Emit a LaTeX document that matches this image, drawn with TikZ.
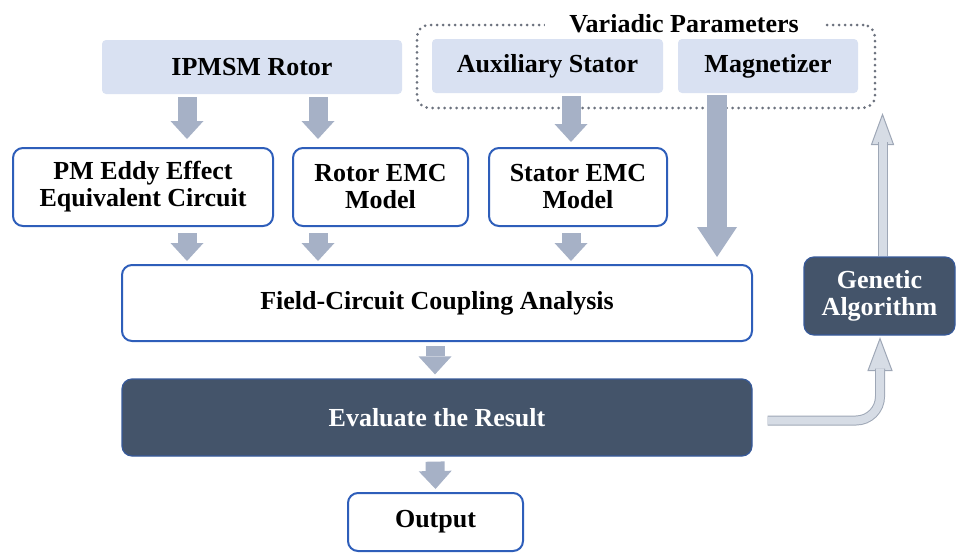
\documentclass[tikz,border=0pt]{standalone}
\usepackage{fontspec}
\setmainfont{Liberation Serif}
\usepackage{tikz}
\usetikzlibrary{arrows.meta}

\definecolor{boxblue}{RGB}{46,94,186}
\definecolor{paleblue}{RGB}{217,225,242}
\definecolor{slate}{RGB}{68,84,106}
\definecolor{flowgray}{RGB}{166,177,198}
\definecolor{loopfill}{RGB}{214,220,229}
\definecolor{loopedge}{RGB}{158,167,182}
\definecolor{dotgray}{RGB}{108,114,126}

\begin{document}
\begin{tikzpicture}[x=0.5pt, y=-0.5pt,
  every node/.style = {align=center, inner sep=0pt,
    font=\fontsize{13pt}{13.5pt}\selectfont\bfseries},
  param/.style = {fill=paleblue, rounded corners=2pt, minimum height=27pt},
  model/.style = {draw=boxblue, line width=1pt, fill=white, rounded corners=5pt},
  dark/.style = {draw=boxblue!60!slate, line width=0.6pt, fill=slate,
    text=white, rounded corners=5pt},
  flow/.style = {draw=flowgray, line width=9.5pt,
    -{Triangle[width=16.5pt, length=9pt, line width=0pt]}},
  bigflow/.style = {draw=flowgray, line width=10pt,
    -{Triangle[width=20pt, length=15pt, line width=0pt]}},
  loop/.style = {draw=loopedge, line width=0.5pt, double=loopfill, double distance=4pt},
  loophead/.style = {draw=loopedge, line width=0.5pt, fill=loopfill, line join=miter}]
  \useasboundingbox (0,0) rectangle (958,552);

  % parameter boxes
  \node[draw=dotgray, line width=1.5pt, dash pattern=on 0pt off 3pt, line cap=round,
    rounded corners=6pt, minimum width=229pt, minimum height=41.5pt] (varbox) at (646,66.5) {};
  \node[fill=white, inner xsep=12pt, inner ysep=2pt] (varlabel) at (684,24) {Variadic Parameters};
  \node[param, minimum width=150pt] (rotor) at (252,67) {IPMSM Rotor};
  \node[param, minimum width=115.5pt] (aux) at (547.5,66) {Auxiliary Stator};
  \node[param, minimum width=90pt] (magnet) at (768,66) {Magnetizer};

  % models and analysis
  \node[model, minimum width=130pt, minimum height=39pt] (pm) at (143,187) {PM Eddy Effect\\Equivalent Circuit};
  \node[model, minimum width=87.5pt, minimum height=39pt] (rotemc) at (380.5,187) {Rotor EMC\\Model};
  \node[model, minimum width=89pt, minimum height=39pt] (statemc) at (578,187) {Stator EMC\\Model};
  \node[model, minimum width=315pt, minimum height=38pt] (field) at (437,303) {Field-Circuit Coupling Analysis};
  \node[dark, minimum width=315pt, minimum height=38.5pt] (eval) at (437,417.5) {Evaluate the Result};
  \node[dark, minimum width=75.5pt, minimum height=39pt] (ga) at (879.5,296) {Genetic\\Algorithm};
  \node[model, minimum width=87.5pt, minimum height=29pt] (output) at (435.5,522) {Output};

  \draw[flow] ([xshift=-32.5pt,yshift=-1.5pt]rotor.south) -- ([xshift=22pt,yshift=4pt]pm.north);
  \draw[flow] ([xshift=33pt,yshift=-1.5pt]rotor.south) -- ([xshift=-31.25pt,yshift=4pt]rotemc.north);
  \draw[flow] ([xshift=11.75pt,yshift=-1.5pt]aux.south) -- ([xshift=-3.5pt,yshift=2.5pt]statemc.north);
  \draw[flow] ([xshift=22pt,yshift=-3pt]pm.south) -- ([xshift=-125pt,yshift=1.5pt]field.north);
  \draw[flow] ([xshift=-31.25pt,yshift=-3pt]rotemc.south) -- ([xshift=-59.5pt,yshift=1.5pt]field.north);
  \draw[flow] ([xshift=-3.5pt,yshift=-3pt]statemc.south) -- ([xshift=67pt,yshift=1.5pt]field.north);
  \draw[bigflow] ([xshift=-25.5pt,yshift=-1pt]magnet.south) -- ([xshift=140pt,yshift=3.5pt]field.north);
  \draw[flow] ([xshift=-1pt,yshift=-2pt]field.south) -- ([xshift=-1pt,yshift=2pt]eval.north);
  \draw[flow] ([xshift=-1pt,yshift=-2.5pt]eval.south) -- ([yshift=1.5pt]output.north);

  % optimisation loop
  \coordinate (gain) at ([xshift=0.25pt,yshift=-1.5pt]ga.south);
  \coordinate (gaout) at (varbox.south -| ga.north);
  \draw[loophead] (gain) -- ++(12,32) -- ++(-24,0) -- cycle;
  \draw[loop, rounded corners=12pt] ([xshift=7.5pt,yshift=-1.5pt]eval.east) -| ([yshift=-15pt]gain);
  \draw[loophead] ([xshift=1.5pt,yshift=-2.5pt]gaout) -- ++(11,30) -- ++(-22,0) -- cycle;
  \draw[loop] ([xshift=1.5pt]ga.north) -- ([xshift=1.5pt,yshift=-16pt]gaout);
\end{tikzpicture}
\end{document}
